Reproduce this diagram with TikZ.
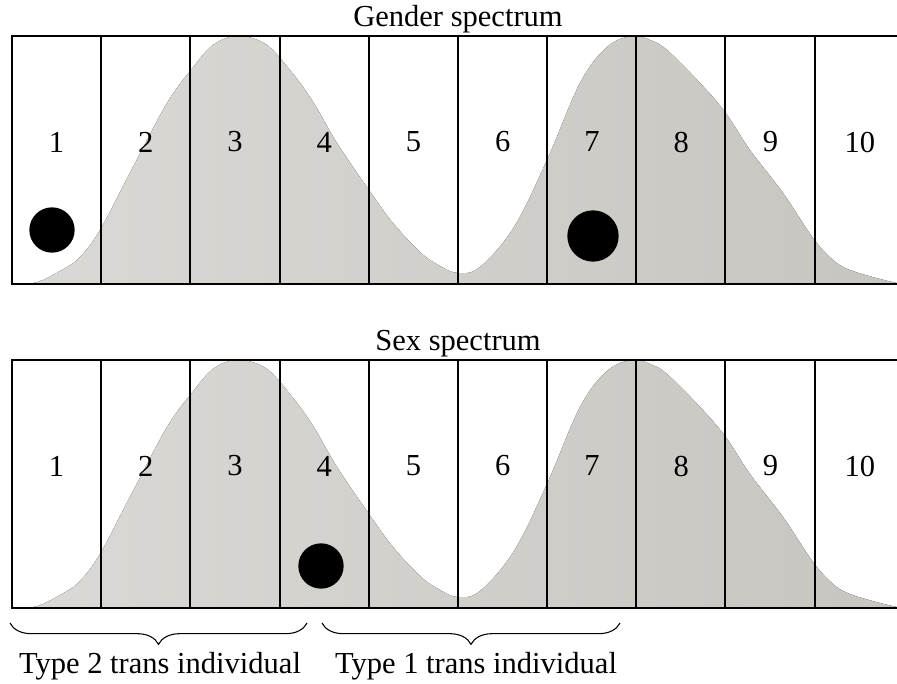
\documentclass[tikz,border=0pt]{standalone}
\usepackage{fontspec}
\setmainfont{Liberation Serif}
\usetikzlibrary{decorations.pathreplacing}
\definecolor{humpL}{RGB}{219,217,213}
\definecolor{humpR}{RGB}{199,197,192}
\begin{document}
\begin{tikzpicture}[x=0.75pt,y=-0.75pt,
  boxline/.style={line width=1.4pt,black},
  hump/.style={left color=humpL,right color=humpR,draw=none},
  lbl/.style={font=\fontsize{22.9}{27}\selectfont,inner sep=0pt},
  dotnode/.style={circle,fill=black,draw=none,inner sep=0pt},
  bracestyle/.style={decorate,decoration={brace,amplitude=16pt},line width=0.8pt}]
\useasboundingbox (0,0) rectangle (897,684);
\foreach \p/\dy/\title in {g/0/Gender spectrum, s/324/Sex spectrum}{
  \begin{scope}[shift={(0,\dy)}]
    \begin{scope}
      \clip (12,36) rectangle (897,284);
      \fill[hump] plot[smooth,tension=0.6] coordinates {
        (28,284) (43,280) (67,267) (80,257) (100,230) (133,167) (167,103)
        (191,70) (213,45) (237,36) (262,42) (280,58) (310,97) (337,143)
        (369,190) (393,223) (420,252) (440,266) (458,273) (480,267) (514,227)
        (547,160) (580,83) (607,47) (632,36) (650,40) (667,50) (700,83)
        (725,112) (750,150) (783,193) (813,238) (833,260) (850,270)
        (880,279) (897,283)}
        -- (900,290) -- (20,290) -- cycle;
    \end{scope}
    \draw[boxline] (897,36) -- (12,36) -- (12,284) -- (897,284);
    \foreach \xx in {101,190,280,369,458,547,636,725,815}
      \draw[boxline] (\xx,36) -- (\xx,284);
    \foreach \i in {1,...,10}
      \node[lbl] (\p\i) at ({12+89.25*(\i-0.5)},142) {\i};
    \node[lbl,anchor=base] (\p title) at (458,27) {\title};
  \end{scope}
}
\node[dotnode,minimum size=34pt] (dotg1) at (52,230) {};
\node[dotnode,minimum size=38.5pt] (dotg7) at (593,236) {};
\node[dotnode,minimum size=34pt] (dots4) at (321,566) {};
\coordinate (b2r) at (307,623);
\coordinate (b2l) at (10,623);
\coordinate (b1r) at (620,623);
\coordinate (b1l) at (322,623);
\draw[bracestyle] (b2r) -- (b2l);
\draw[bracestyle] (b1r) -- (b1l);
\node[lbl,anchor=base] (type2) at (160,673) {Type 2 trans individual};
\node[lbl,anchor=base] (type1) at (476,673) {Type 1 trans individual};
\end{tikzpicture}
\end{document}
